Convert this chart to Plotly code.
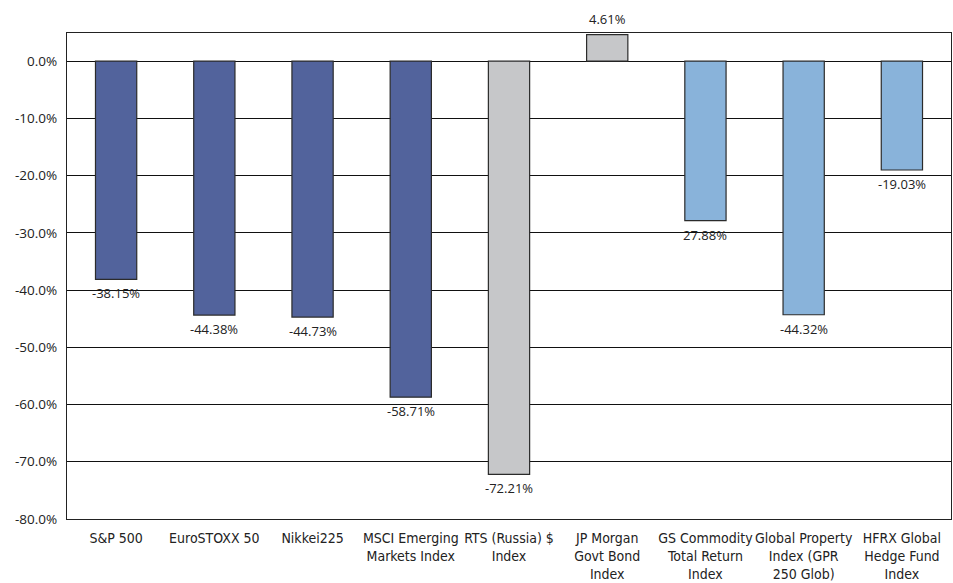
import plotly.graph_objects as go

categories = ["S&P 500", "EuroSTOXX 50", "Nikkei225", "MSCI Emerging<br>Markets Index",
              "RTS (Russia) $<br>Index", "JP Morgan<br>Govt Bond<br>Index",
              "GS Commodity<br>Total Return<br>Index", "Global Property<br>Index (GPR<br>250 Glob)",
              "HFRX Global<br>Hedge Fund<br>Index"]
values = [-38.15, -44.38, -44.73, -58.71, -72.21, 4.61, -27.88, -44.32, -19.03]
value_labels = ["-38.15%", "-44.38%", "-44.73%", "-58.71%", "-72.21%", "4.61%", "27.88%", "-44.32%", "-19.03%"]
bar_colors = ["#52639C", "#52639C", "#52639C", "#52639C", "#C6C7C9", "#C6C7C9",
              "#89B3DA", "#89B3DA", "#89B3DA"]
tick_vals = [0, -10, -20, -30, -40, -50, -60, -70, -80]
tick_text = ["0.0%", "-10.0%", "-20.0%", "-30.0%", "-40.0%", "-50.0%", "-60.0%", "-70.0%", "-80.0%"]

fig = go.Figure(go.Bar(
    x=categories, y=values,
    marker=dict(color=bar_colors, line=dict(color="#2b2b2b", width=1.2)),
))

for cat, val, lab in zip(categories, values, value_labels):
    fig.add_annotation(
        x=cat, y=val, text=lab, showarrow=False,
        yshift=16 if val >= 0 else -14,
        font=dict(family="Open Sans, Noto Sans, sans-serif", size=13, color="#222"),
    )

fig.update_layout(
    width=953, height=583,
    margin=dict(l=67, r=2, t=33, b=64, autoexpand=False),
    paper_bgcolor="white", plot_bgcolor="white",
    bargap=0.58, showlegend=False,
    font=dict(family="DejaVu Sans Condensed, sans-serif", size=13, color="#222"),
)
fig.update_xaxes(
    showline=True, linecolor="#222", linewidth=1.2, mirror=True,
    showgrid=False, ticks="", tickfont=dict(size=14), ticklabelstandoff=6,
    tickangle=0, automargin=False,
)
fig.update_yaxes(
    range=[-80, 4.9], tickvals=tick_vals, ticktext=tick_text,
    showline=True, linecolor="#222", linewidth=1.2, mirror=True,
    showgrid=True, gridcolor="#111", gridwidth=1,
    zeroline=True, zerolinecolor="#111", zerolinewidth=1.2,
    ticks="", tickfont=dict(family="Open Sans, sans-serif", size=13.5),
    ticklabelstandoff=6, automargin=False,
)

fig.write_html("out.html")
